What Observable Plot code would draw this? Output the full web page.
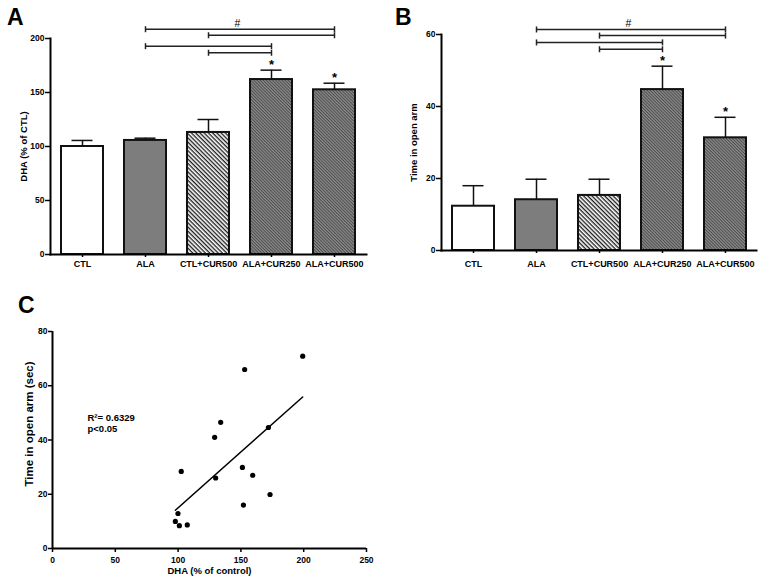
<!DOCTYPE html>
<html>
<head>
<meta charset="utf-8">
<script src="https://cdn.jsdelivr.net/npm/d3@7"></script>
<script src="https://cdn.jsdelivr.net/npm/@observablehq/plot@0.6"></script>
<style>
  body { margin: 0; background: #fff; }
  #fig { position: relative; width: 763px; height: 584px; background: #fff; overflow: hidden;
         font-family: "Liberation Sans", Arial, Helvetica, sans-serif; }
  .panel { position: absolute; z-index: 1; }
  .letter { position: absolute; z-index: 2; font-weight: bold; font-size: 23px; line-height: 23px; color: #000; }
</style>
</head>
<body>
<div id="fig">
  <svg width="0" height="0" style="position:absolute;left:0;top:0">
    <defs>
      <pattern id="hatchLight" patternUnits="userSpaceOnUse" width="3" height="3" patternTransform="rotate(45)">
        <rect width="3" height="3" fill="#ffffff"></rect>
        <rect width="3" height="1.35" fill="#1e1e1e"></rect>
      </pattern>
      <pattern id="hatchDark" patternUnits="userSpaceOnUse" width="2.2" height="2.2" patternTransform="rotate(45)">
        <rect width="2.2" height="2.2" fill="#8e8e8e"></rect>
        <rect width="2.2" height="1" fill="#4a4a4a"></rect>
      </pattern>
    </defs>
  </svg>
  <div class="panel" id="panelA" style="left:0;top:0;width:380px;height:280px"></div>
  <div class="panel" id="panelB" style="left:380px;top:0;width:383px;height:280px"></div>
  <div class="panel" id="panelC" style="left:0;top:290px;width:380px;height:294px"></div>
  <div class="letter" style="left:7px;top:5.5px">A</div>
  <div class="letter" style="left:395px;top:5.5px">B</div>
  <div class="letter" style="left:18px;top:293.5px">C</div>
</div>
<script>
// ---------------- data ----------------
const groups = ["CTL", "ALA", "CTL+CUR500", "ALA+CUR250", "ALA+CUR500"];
const dhaMean = [100, 105.6, 113, 162, 152.5];
const dhaSEM = [5.6, 2.1, 12, 8.7, 6.1];
const openArmMean = [12.3, 14.1, 15.3, 44.7, 31.3];
const openArmSEM = [5.7, 5.7, 4.5, 6.5, 5.7];
const starred = ["ALA+CUR250", "ALA+CUR500"];
const bracketFrom = ["ALA", "CTL+CUR500", "ALA", "CTL+CUR500"];
const bracketTo = ["ALA+CUR500", "ALA+CUR500", "ALA+CUR250", "ALA+CUR250"];
const bracketLevelA = [208.6, 203, 192.9, 186.8];
const bracketLevelB = [61.4, 59.7, 57.8, 55.9];
const dhaTicks = [0, 50, 100, 150, 200];
const openArmTicks = [0, 20, 40, 60];

const scatterDHA = [199.2, 153, 133.9, 129.1, 171.9, 102.5, 151.2, 129.9, 159.4, 173.2, 152, 99.9, 97.8, 101, 107.3];
const scatterTime = [70.9, 66, 46.5, 41, 44.6, 28.4, 29.9, 26, 27, 19.9, 16, 12.9, 10, 8.4, 8.7];
const scatterXTicks = [0, 50, 100, 150, 200, 250];
const scatterYTicks = [0, 20, 40, 60, 80];
const statText = "R\u00B2= 0.6329\np<0.05";

// ---------------- styles ----------------
const fontFamily = "'Liberation Sans', Arial, Helvetica, sans-serif";
const groupFill = {
  "CTL": "white",
  "ALA": "#7d7d7d",
  "CTL+CUR500": "url(#hatchLight)",
  "ALA+CUR250": "url(#hatchDark)",
  "ALA+CUR500": "url(#hatchDark)"
};
const vbar = {
  draw(ctx, size) {
    const h = Math.sqrt(size / Math.PI);
    ctx.moveTo(0, -h);
    ctx.lineTo(0, h);
  }
};

function barPanel({means, sems, levels, yDomain, yTicks, yLabel, width, height,
                   marginLeft, marginRight, marginTop, marginBottom, xPad, labelDx}) {
  const rows = groups.map((g, i) => ({group: g, mean: means[i], top: means[i] + sems[i]}));
  const br = bracketFrom.map((f, i) => ({from: f, to: bracketTo[i], level: levels[i]}));
  const caps = br.flatMap(d => [{g: d.from, level: d.level}, {g: d.to, level: d.level}]);
  return Plot.plot({
    width, height, marginLeft, marginRight, marginTop, marginBottom,
    style: {fontFamily, fontSize: "8.5px", fontWeight: "bold", background: "white", color: "#000", overflow: "visible"},
    x: {domain: groups, paddingInner: 0.335, paddingOuter: 0.1675},
    y: {domain: yDomain, nice: false},
    color: {type: "identity"},
    marks: [
      Plot.barY(rows, {x: "group", y: "mean", fill: d => groupFill[d.group], stroke: "#111", strokeWidth: 2}),
      Plot.ruleX(rows, {x: "group", y1: "mean", y2: "top", stroke: "#111", strokeWidth: 1.5}),
      Plot.tickY(rows, {x: "group", y: "top", stroke: "#111", strokeWidth: 1.5, insetLeft: 10.5, insetRight: 10.5}),
      Plot.text(rows.filter(d => starred.includes(d.group)), {x: "group", y: "top", text: () => "*", fontSize: 13, dy: -5}),
      Plot.link(br, {x1: "from", x2: "to", y1: "level", y2: "level", stroke: "#222", strokeWidth: 1.5}),
      Plot.dot(caps, {x: "g", y: "level", symbol: vbar, r: 3, fill: "none", stroke: "#222", strokeWidth: 1.5}),
      Plot.text([br[0]], {x: () => "CTL+CUR500", y: "level", text: () => "#", dx: 29, dy: -2.5, lineAnchor: "bottom", fontSize: 10.5, fontWeight: "normal"}),
      Plot.frame({anchor: "left", strokeWidth: 2}),
      Plot.frame({anchor: "bottom", strokeWidth: 2}),
      Plot.axisY({ticks: yTicks, tickSize: 5, tickPadding: 1, label: null, strokeWidth: 1.5}),
      Plot.axisX({tickSize: 3, tickPadding: xPad, label: null, strokeWidth: 1.5, fontSize: 9}),
      Plot.text([yLabel], {text: d => d, frameAnchor: "left", textAnchor: "middle", rotate: -90, dx: labelDx, fontSize: 9.5})
    ]
  });
}

document.getElementById("panelA").append(barPanel({
  means: dhaMean, sems: dhaSEM, levels: bracketLevelA, yDomain: [0, 200], yTicks: dhaTicks,
  yLabel: "DHA (% of CTL)", width: 380, height: 280,
  marginLeft: 50, marginRight: 14, marginTop: 38, marginBottom: 26, xPad: 3.5, labelDx: -27
}));

document.getElementById("panelB").append(barPanel({
  means: openArmMean, sems: openArmSEM, levels: bracketLevelB, yDomain: [0, 60], yTicks: openArmTicks,
  yLabel: "Time in open arm", width: 383, height: 280,
  marginLeft: 61, marginRight: 7, marginTop: 34, marginBottom: 30, xPad: 7.5, labelDx: -28
}));

const points = scatterDHA.map((x, i) => ({dha: x, time: scatterTime[i]}));
document.getElementById("panelC").append(Plot.plot({
  width: 380, height: 294, marginLeft: 52, marginRight: 14, marginTop: 41, marginBottom: 36,
  style: {fontFamily, fontSize: "8.5px", fontWeight: "bold", background: "white", color: "#000", overflow: "visible"},
  x: {domain: [0, 250], nice: false},
  y: {domain: [0, 80], nice: false},
  marks: [
    Plot.ruleX([0], {strokeWidth: 2}),
    Plot.ruleY([0], {strokeWidth: 2}),
    Plot.axisY({ticks: scatterYTicks, tickSize: 4, tickPadding: 1, label: null, strokeWidth: 1.5}),
    Plot.axisX({ticks: scatterXTicks, tickSize: 4, tickPadding: 4.5, label: null, strokeWidth: 1.5}),
    Plot.linearRegressionY(points, {x: "dha", y: "time", ci: 0, stroke: "#000", strokeWidth: 1.5}),
    Plot.dot(points, {x: "dha", y: "time", r: 2.6, fill: "#000", stroke: "none"}),
    Plot.text([statText], {text: d => d, frameAnchor: "left", textAnchor: "start", dx: 35, dy: -17, fontSize: 9.5, lineHeight: 1.1}),
    Plot.text(["Time in open arm (sec)"], {text: d => d, frameAnchor: "left", textAnchor: "middle", rotate: -90, dx: -23, dy: -16, fontSize: 11.5}),
    Plot.text(["DHA (% of control)"], {text: d => d, frameAnchor: "bottom", textAnchor: "middle", dy: 25, fontSize: 9.5})
  ]
}));
</script>
</body>
</html>
